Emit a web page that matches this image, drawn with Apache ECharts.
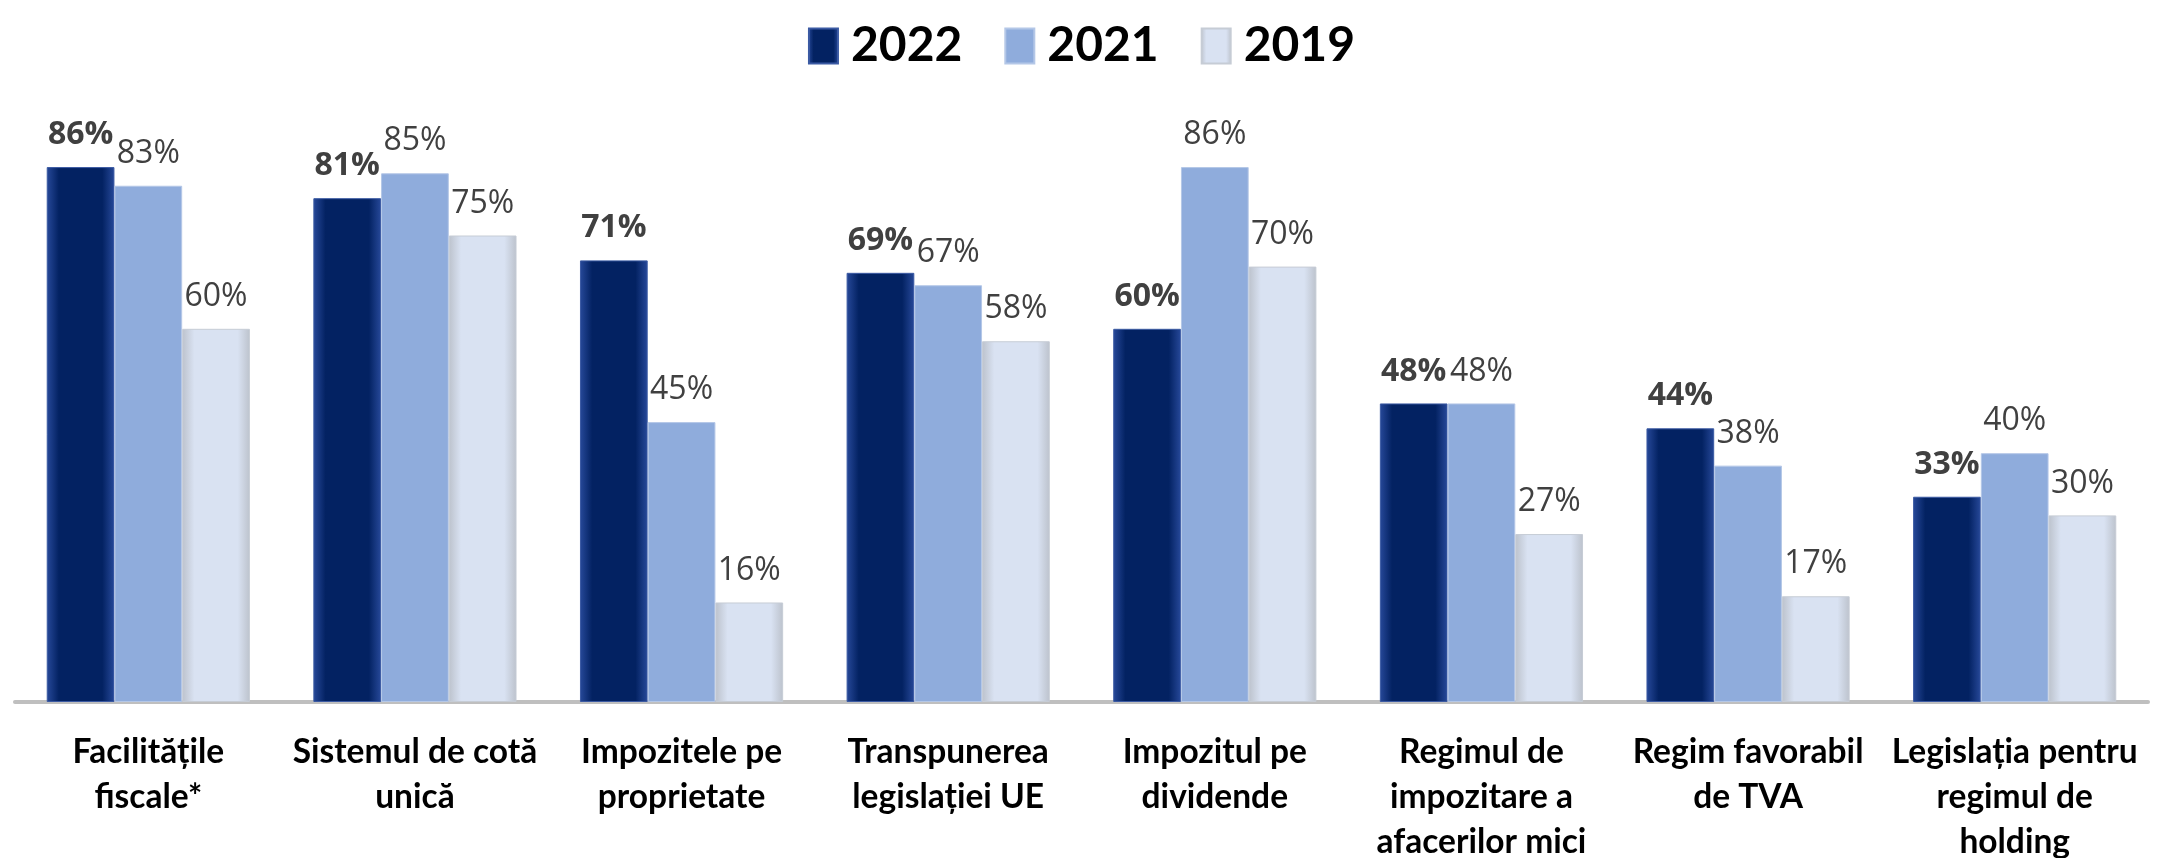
<!DOCTYPE html>
<html>
<head>
<meta charset="utf-8">
<script src="https://cdn.jsdelivr.net/npm/echarts@6/dist/echarts.min.js"></script>
<style>
html,body{margin:0;padding:0;background:#fff;}
#main{width:2163px;height:858px;}
</style>
</head>
<body>
<div id="main"></div>
<script>
const categories = [
  "Facilitățile\nfiscale*",
  "Sistemul de cotă\nunică",
  "Impozitele pe\nproprietate",
  "Transpunerea\nlegislației UE",
  "Impozitul pe\ndividende",
  "Regimul de\nimpozitare a\nafacerilor mici",
  "Regim favorabil\nde TVA",
  "Legislația pentru\nregimul de\nholding"
];
const seriesNames = ["2022", "2021", "2019"];
const values2022 = [86, 81, 71, 69, 60, 48, 44, 33];
const values2021 = [83, 85, 45, 67, 86, 48, 38, 40];
const values2019 = [60, 75, 16, 58, 70, 27, 17, 30];

function hGrad(edge, center) {
  return new echarts.graphic.LinearGradient(0, 0, 1, 0, [
    {offset: 0, color: edge},
    {offset: 0.18, color: center},
    {offset: 0.82, color: center},
    {offset: 1, color: edge}
  ]);
}

const chart = echarts.init(document.getElementById('main'));
const labelFont = "'Open Sans', sans-serif";
function mkSeries(name, data, color, border, bold) {
  return {
    name: name,
    type: 'bar',
    data: data,
    barGap: '0%',
    barCategoryGap: '23.8%',
    itemStyle: {color: color, borderColor: border, borderWidth: 1},
    label: {
      show: true,
      position: 'top',
      distance: 16,
      formatter: '{c}%',
      fontFamily: labelFont,
      fontSize: 32,
      fontWeight: bold ? 'bold' : 'normal',
      color: '#404040'
    }
  };
}
chart.setOption({
  animation: false,
  backgroundColor: '#ffffff',
  legend: {
    left: 'center',
    top: 17,
    itemWidth: 29,
    itemHeight: 35,
    itemGap: 42,
    icon: 'rect',
    textStyle: {fontFamily: "Lato, sans-serif", fontWeight: 'bold', fontSize: 48, color: '#000', padding: [0, 0, 0, 8]},
    data: seriesNames
  },
  grid: {left: 15, right: 15, top: 80, bottom: 156, outerBoundsMode: 'none', containLabel: false},
  xAxis: {
    type: 'category',
    data: categories,
    axisLine: {lineStyle: {color: '#bfbfbf', width: 4}},
    axisTick: {show: false},
    axisLabel: {
      interval: 0,
      margin: 28,
      fontFamily: "Lato, sans-serif",
      fontWeight: 'bold',
      fontSize: 33.5,
      lineHeight: 45,
      color: '#000'
    }
  },
  yAxis: {
    type: 'value', min: 0, max: 100,
    show: false,
    splitLine: {show: false}
  },
  series: [
    mkSeries(seriesNames[0], values2022, hGrad('#27499a', '#032262'), '#3b5aa3', true),
    mkSeries(seriesNames[1], values2021, '#8facdc', '#b4c7e7', false),
    mkSeries(seriesNames[2], values2019, hGrad('#bcc2cc', '#d9e2f2'), '#c6ccd5', false)
  ]
});
</script>
</body>
</html>
